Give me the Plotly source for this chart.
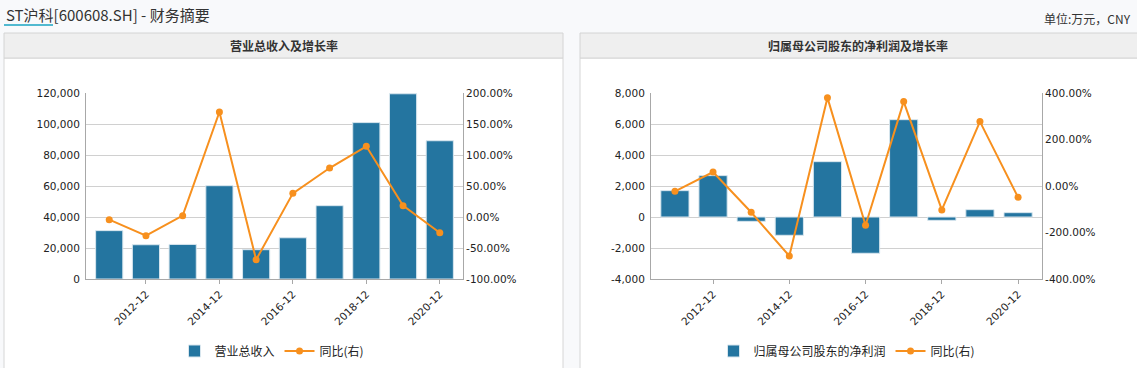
import plotly.graph_objects as go

W, H = 1137, 368

# ---------------- data ----------------
periods = ["2011-12", "2012-12", "2013-12", "2014-12", "2015-12",
           "2016-12", "2017-12", "2018-12", "2019-12", "2020-12"]
shown_periods = ["2012-12", "2014-12", "2016-12", "2018-12", "2020-12"]

revenue = [31200, 22100, 22300, 60200, 18900, 26600, 47300, 100900, 119500, 89200]
revenue_yoy = [-4.3, -30.1, 2.2, 169.4, -68.8, 38.2, 79.0, 114.0, 18.3, -25.3]

net_profit = [1700, 2670, -280, -1180, 3570, -2340, 6280, -215, 473, 280]
net_profit_yoy = [-23.0, 60.2, -113.0, -301.0, 380.0, -169.0, 363.0, -103.0, 277.0, -48.7]

rev_ticks = [0, 20000, 40000, 60000, 80000, 100000, 120000]
rev_pct_ticks = [-100, -50, 0, 50, 100, 150, 200]
np_ticks = [-4000, -2000, 0, 2000, 4000, 6000, 8000]
np_pct_ticks = [-400, -200, 0, 200, 400]

page_title = "ST沪科[600608.SH] - 财务摘要"
unit_text = "单位:万元，CNY"
left_title = "营业总收入及增长率"
right_title = "归属母公司股东的净利润及增长率"
left_bar_name = "营业总收入"
right_bar_name = "归属母公司股东的净利润"
line_name = "同比(右)"

# ---------------- style ----------------
BAR = "#2475a0"
LINE = "#f7901e"
TXT = "#222222"
GRID = "#d0d0d0"
AX = "#a8a8a8"
PAGE_BG = "#f8f9fb"
TICKFONT = dict(family="DejaVu Sans, Verdana, sans-serif", size=10.5, color=TXT)
CJK = "Noto Sans CJK SC, Microsoft YaHei, sans-serif"


def px(x):
    return x / W


def py(y):
    return 1 - y / H


fig = go.Figure()

# left chart
fig.add_trace(go.Bar(x=periods, y=revenue, name=left_bar_name,
                     marker=dict(color=BAR, line=dict(color="#d8e6ee", width=1)),
                     xaxis="x", yaxis="y", legend="legend"))
fig.add_trace(go.Scatter(x=periods, y=revenue_yoy, name=line_name, mode="lines+markers",
                         line=dict(color=LINE, width=2), marker=dict(color=LINE, size=7),
                         xaxis="x", yaxis="y2", legend="legend"))
# right chart
fig.add_trace(go.Bar(x=periods, y=net_profit, name=right_bar_name,
                     marker=dict(color=BAR, line=dict(color="#d8e6ee", width=1)),
                     xaxis="x2", yaxis="y3", legend="legend2"))
fig.add_trace(go.Scatter(x=periods, y=net_profit_yoy, name=line_name, mode="lines+markers",
                         line=dict(color=LINE, width=2), marker=dict(color=LINE, size=7),
                         xaxis="x2", yaxis="y4", legend="legend2"))

ydom = [py(279), py(93)]
ldom = [px(86), px(463)]
rdom = [px(651), px(1042)]

xcommon = dict(type="category", tickmode="array", tickvals=shown_periods, ticktext=shown_periods,
               tickangle=-45, ticks="outside", ticklen=4, tickcolor=AX, showline=True,
               linecolor=AX, linewidth=1, showgrid=False, tickfont=TICKFONT, fixedrange=True,
               automargin=False)


def fmt_int(v):
    return f"{v:,}"


def fmt_pct(v):
    return f"{v:.2f}%"


fig.update_layout(
    width=W, height=H, margin=dict(l=0, r=0, t=0, b=0, autoexpand=False),
    paper_bgcolor=PAGE_BG, plot_bgcolor="rgba(0,0,0,0)",
    bargap=0.26, showlegend=True,
    xaxis=dict(domain=ldom, anchor="y", **xcommon),
    yaxis=dict(domain=ydom, range=[0, 120000], tickmode="array", tickvals=rev_ticks,
               ticktext=[fmt_int(v) for v in rev_ticks], showgrid=True, gridcolor=GRID,
               showline=True, linecolor=AX, zeroline=False, tickfont=TICKFONT,
               ticks="", ticklabelstandoff=3, automargin=False),
    yaxis2=dict(domain=ydom, range=[-100, 200], overlaying="y", side="right", anchor="x",
                tickmode="array", tickvals=rev_pct_ticks,
                ticktext=[fmt_pct(v) for v in rev_pct_ticks], showgrid=False,
                showline=True, linecolor=AX, zeroline=False, tickfont=TICKFONT, ticks="",
                automargin=False),
    xaxis2=dict(domain=rdom, anchor="y3", **xcommon),
    yaxis3=dict(domain=ydom, range=[-4000, 8000], anchor="x2", tickmode="array", tickvals=np_ticks,
                ticktext=[fmt_int(v) for v in np_ticks], showgrid=True, gridcolor=GRID,
                showline=True, linecolor=AX, zeroline=False, tickfont=TICKFONT,
                ticks="", ticklabelstandoff=3, automargin=False),
    yaxis4=dict(domain=ydom, range=[-400, 400], overlaying="y3", side="right", anchor="x2",
                tickmode="array", tickvals=np_pct_ticks,
                ticktext=[fmt_pct(v) for v in np_pct_ticks], showgrid=False,
                showline=True, linecolor=AX, zeroline=False, tickfont=TICKFONT, ticks="",
                automargin=False),
    legend=dict(orientation="h", x=px(272), y=py(351), xanchor="center", yanchor="middle",
                bgcolor="rgba(0,0,0,0)", font=dict(family=CJK, size=12, color=TXT),
                itemwidth=30, traceorder="normal"),
    legend2=dict(orientation="h", x=px(847), y=py(351), xanchor="center", yanchor="middle",
                 bgcolor="rgba(0,0,0,0)", font=dict(family=CJK, size=12, color=TXT),
                 itemwidth=30, traceorder="normal"),
)

shapes = []
for x0, x1 in [(4, 563), (580, 1140)]:
    # panel body
    shapes.append(dict(type="rect", xref="paper", yref="paper", x0=px(x0), x1=px(x1),
                       y0=py(372), y1=py(58), fillcolor="white",
                       line=dict(color="#d6d6d6", width=1), layer="below"))
    # panel header
    shapes.append(dict(type="rect", xref="paper", yref="paper", x0=px(x0), x1=px(x1),
                       y0=py(58), y1=py(33), fillcolor="#efefef",
                       line=dict(color="#d4d4d4", width=1), layer="below"))
# title underline
shapes.append(dict(type="line", xref="paper", yref="paper", x0=px(4), x1=px(53),
                   y0=py(25), y1=py(25), line=dict(color="#1aa3c2", width=1.5)))
fig.update_layout(shapes=shapes)

ann = [
    dict(text=page_title, x=px(4), y=py(14), xanchor="left", yanchor="middle",
         font=dict(family=CJK, size=15, color="#333333")),
    dict(text=unit_text, x=px(1133), y=py(18), xanchor="right", yanchor="middle",
         font=dict(family=CJK, size=12, color="#333333")),
    dict(text="<b>" + left_title + "</b>", x=px(283.5), y=py(45.5), xanchor="center",
         yanchor="middle", font=dict(family=CJK, size=12, color="#333333")),
    dict(text="<b>" + right_title + "</b>", x=px(858), y=py(45.5), xanchor="center",
         yanchor="middle", font=dict(family=CJK, size=12, color="#333333")),
]
for a in ann:
    a.update(xref="paper", yref="paper", showarrow=False)
fig.update_layout(annotations=ann)

fig.write_html(
    "out.html",
    config={"displayModeBar": False},
    post_script=("document.body.style.margin='0';document.body.style.padding='0';"
                 "document.body.style.overflow='hidden';"
                 "document.body.style.background='" + PAGE_BG + "';"),
)
